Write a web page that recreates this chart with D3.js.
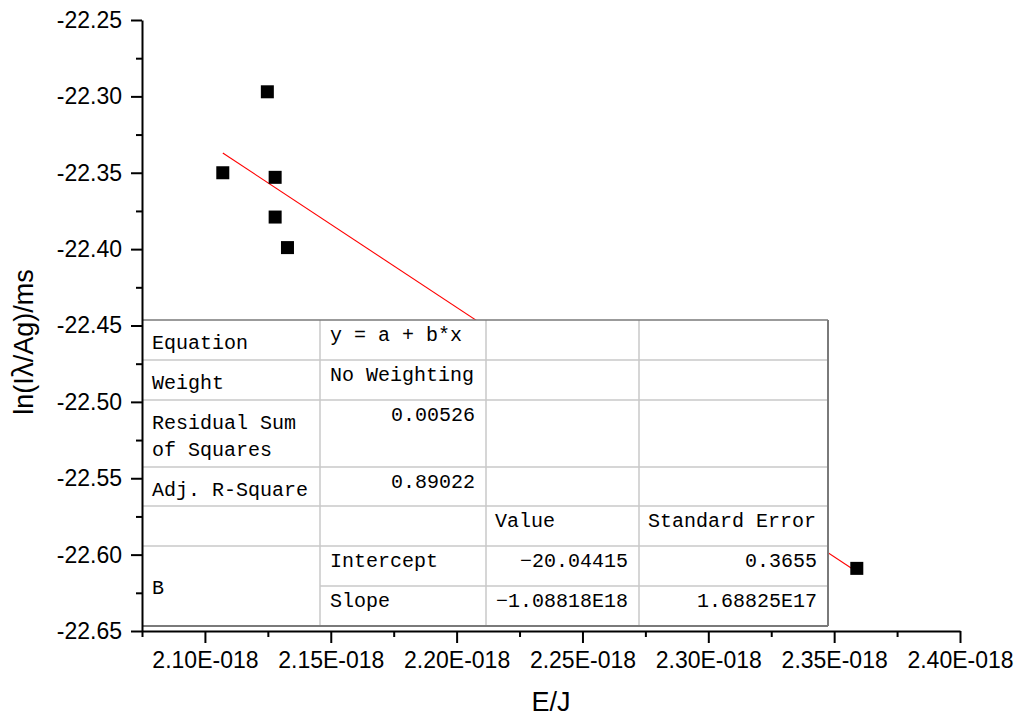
<!DOCTYPE html>
<html><head><meta charset="utf-8">
<script src="https://cdn.jsdelivr.net/npm/d3@7"></script>
<style>body{margin:0;background:#fff}svg{display:block}</style>
</head><body><svg id="c" width="1023" height="716"></svg>
<script>
// ---- data ----
const energyJ = [2.1071e-18, 2.1248e-18, 2.1279e-18, 2.1279e-18, 2.1328e-18, 2.3590e-18];
const lnValues = [-22.350, -22.297, -22.353, -22.379, -22.399, -22.609];
const fitIntercept = -20.04415;
const fitSlope = -1.08818e18;
const xMajorTicks = [2.10e-18, 2.15e-18, 2.20e-18, 2.25e-18, 2.30e-18, 2.35e-18, 2.40e-18];
const xMinorTicks = [2.075e-18, 2.125e-18, 2.175e-18, 2.225e-18, 2.275e-18, 2.325e-18, 2.375e-18];
const yMajorTicks = [-22.25, -22.30, -22.35, -22.40, -22.45, -22.50, -22.55, -22.60, -22.65];
const yMinorTicks = [-22.275, -22.325, -22.375, -22.425, -22.475, -22.525, -22.575, -22.625];
const statLabels = [["Equation"], ["Weight"], ["Residual Sum", "of Squares"], ["Adj. R-Square"]];
const statValues = ["y = a + b*x", "No Weighting", "0.00526", "0.89022"];
const paramHeaders = ["Value", "Standard Error"];
const paramGroup = "B";
const paramNames = ["Intercept", "Slope"];
const paramValues = ["\u221220.04415", "\u22121.08818E18"];
const paramErrors = ["0.3655", "1.68825E17"];
const xTitle = "E/J";
const yTitleParts = ["ln(I", "\u03bb", "/Ag)/ms"];

// ---- layout ----
const svg = d3.select("#c");
const x = d3.scaleLinear().domain([2.075e-18, 2.40e-18]).range([142, 960]);
const y = d3.scaleLinear().domain([-22.65, -22.25]).range([631, 20]);
const axisFont = "'Liberation Sans', Arial, sans-serif";
const tableFont = "'Liberation Mono', 'Courier New', monospace";

// fit line
const xMin = d3.min(energyJ), xMax = d3.max(energyJ);
svg.append("line")
  .attr("x1", x(xMin)).attr("y1", y(fitIntercept + fitSlope * xMin))
  .attr("x2", x(xMax)).attr("y2", y(fitIntercept + fitSlope * xMax))
  .attr("stroke", "#ff0000").attr("stroke-width", 1.1);

// points
const ms = 13;
svg.append("g").selectAll("rect").data(energyJ).join("rect")
  .attr("x", (d) => x(d) - ms / 2)
  .attr("y", (d, i) => y(lnValues[i]) - ms / 2)
  .attr("width", ms).attr("height", ms).attr("fill", "#000");

// ---- table ----
const tL = 142, tR = 828, tT = 320, tB = 626;
const colX = [tL, 320, 486, 639, tR];
const rowY = [tT, 360, 400, 467, 506, 546, 586, tB];
const tg = svg.append("g").attr("font-family", tableFont).attr("font-size", 20).attr("fill", "#000");
tg.append("rect").attr("x", tL).attr("y", tT).attr("width", tR - tL).attr("height", tB - tT).attr("fill", "#fff");
const light = "#c8c8c8";
[360, 400, 467, 506, 546].forEach((yy) => {
  tg.append("line").attr("x1", tL).attr("x2", tR).attr("y1", yy).attr("y2", yy).attr("stroke", light).attr("stroke-width", 1.5);
});
tg.append("line").attr("x1", colX[1]).attr("x2", tR).attr("y1", 586).attr("y2", 586).attr("stroke", light).attr("stroke-width", 1.5);
colX.slice(1, 4).forEach((xx) => {
  tg.append("line").attr("x1", xx).attr("x2", xx).attr("y1", tT).attr("y2", tB).attr("stroke", light).attr("stroke-width", 1.5);
});
const dark = "#7a7a7a";
tg.append("line").attr("x1", tL).attr("x2", tR).attr("y1", tT).attr("y2", tT).attr("stroke", dark).attr("stroke-width", 1.5);
tg.append("line").attr("x1", tL).attr("x2", tR).attr("y1", tB).attr("y2", tB).attr("stroke", dark).attr("stroke-width", 2);
tg.append("line").attr("x1", tR).attr("x2", tR).attr("y1", tT).attr("y2", tB).attr("stroke", dark).attr("stroke-width", 2);

statLabels.forEach((lines, i) => {
  lines.forEach((s, j) => {
    tg.append("text").attr("x", colX[0] + 10).attr("y", rowY[i] + 29 + j * 27).attr("xml:space", "preserve").text(s);
  });
  const v = statValues[i];
  const isNum = !isNaN(parseFloat(v));
  tg.append("text")
    .attr("x", isNum ? colX[2] - 11 : colX[1] + 10)
    .attr("text-anchor", isNum ? "end" : "start")
    .attr("y", rowY[i] + 21).attr("xml:space", "preserve").text(v);
});
paramHeaders.forEach((h, k) => {
  tg.append("text").attr("x", colX[2 + k] + 9).attr("y", rowY[4] + 21).text(h);
});
tg.append("text").attr("x", colX[0] + 10).attr("y", 594).text(paramGroup);
paramNames.forEach((n, i) => {
  const ry = rowY[5 + i];
  tg.append("text").attr("x", colX[1] + 10).attr("y", ry + 21).text(n);
  tg.append("text").attr("x", colX[3] - 11).attr("y", ry + 21).attr("text-anchor", "end").text(paramValues[i]);
  tg.append("text").attr("x", colX[4] - 11).attr("y", ry + 21).attr("text-anchor", "end").text(paramErrors[i]);
});

// ---- axes ----
function styleAxis(g) {
  g.selectAll("path.domain").attr("stroke", "#000").attr("stroke-width", 2);
  g.selectAll(".tick line").attr("stroke", "#000").attr("stroke-width", 2);
  g.selectAll("text").attr("font-family", axisFont).attr("font-size", 23).attr("fill", "#000");
}
const gx = svg.append("g").attr("transform", "translate(0,631)")
  .call(d3.axisBottom(x).tickValues(xMajorTicks).tickSize(12).tickSizeOuter(0).tickPadding(9)
    .tickFormat((d) => (d * 1e18).toFixed(2) + "E-018"));
styleAxis(gx);
const gxm = svg.append("g").attr("transform", "translate(0,631)")
  .call(d3.axisBottom(x).tickValues(xMinorTicks).tickSize(6).tickFormat(""));
gxm.select("path.domain").remove();
styleAxis(gxm);

const gy = svg.append("g").attr("transform", "translate(142,0)")
  .call(d3.axisLeft(y).tickValues(yMajorTicks).tickSize(11).tickSizeOuter(0).tickPadding(9)
    .tickFormat((d) => d.toFixed(2)));
styleAxis(gy);
const gym = svg.append("g").attr("transform", "translate(142,0)")
  .call(d3.axisLeft(y).tickValues(yMinorTicks).tickSize(6).tickFormat(""));
gym.select("path.domain").remove();
styleAxis(gym);

// titles
svg.append("text").attr("x", 551).attr("y", 711).attr("text-anchor", "middle")
  .attr("font-family", axisFont).attr("font-size", 27).text(xTitle);
const yt = svg.append("text").attr("transform", "translate(33,342) rotate(-90)").attr("text-anchor", "middle")
  .attr("font-family", axisFont).attr("font-size", 27);
yt.selectAll("tspan").data(yTitleParts).join("tspan")
  .attr("font-family", (d, i) => i === 1 ? "'Noto Sans CJK SC', 'DejaVu Sans', sans-serif" : null)
  .text((d) => d);
</script>
</body></html>
